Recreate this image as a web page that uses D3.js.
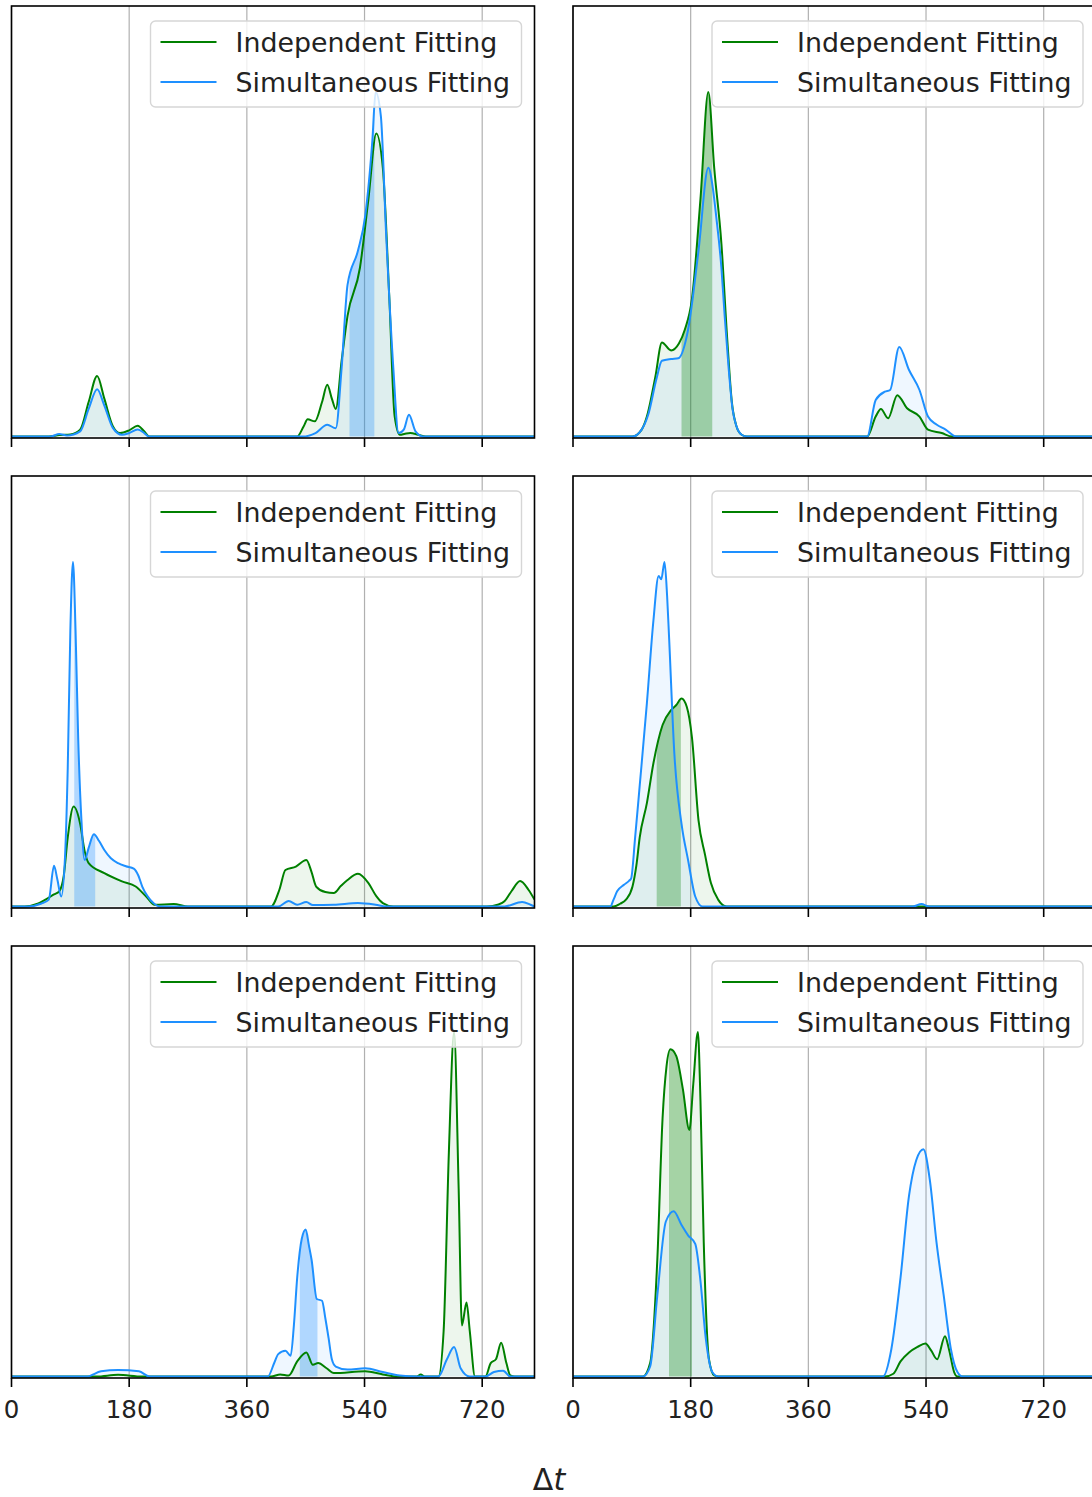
<!DOCTYPE html>
<html>
<head>
<meta charset="utf-8">
<script src="https://cdn.jsdelivr.net/npm/d3@7"></script>
<style>
  body { margin: 0; background: #fff; }
  svg { display: block; }
  text { font-family: "DejaVu Sans", sans-serif; fill: #222; }
</style>
</head>
<body>
<div id="chart"></div>
<script>
// ---- data, x in Δt, y in relative density ----
var tickValues = [0, 180, 360, 540, 720];
var seriesNames = ["Independent Fitting", "Simultaneous Fitting"];

var p1Independent = [[0,0],[57,0],[73,0.4],[90,0.6],[105,2],[118,10],[131,17.6],[142,11],[155,3],[166,1],[180,1.8],[193,3.1],[203,1.5],[211,0],[437,0],[447,3],[453,5],[464,4.4],[475,10],[483,15],[490,11],[496,8],[505,22],[514,35],[533,49],[546,69],[558,88],[568,78],[578,40],[586,6],[594,0.5],[602,0.8],[610,1],[622,0.5],[634,0],[800,0]];
var p1Simultaneous = [[0,0],[60,0],[73,0.7],[85,0.3],[105,1.5],[118,8],[131,13.7],[142,9],[155,2.5],[169,0.5],[180,1],[193,2],[203,1],[210,0],[445,0],[465,1],[483,3.4],[496,2.4],[505,20],[514,44],[530,54],[541,64],[552,86],[557,100],[565,93],[573,59],[584,20],[592,1],[600,2],[608,6.3],[618,1.5],[630,0],[800,0]];

var p2Independent = [[0,0],[91,0],[105,2],[113,5.8],[126,17.4],[136,27.3],[150,25],[162,27],[171,31],[182,40],[195,69],[207,100],[216,78],[227,56],[236,28],[243,10],[250,3],[258,0.5],[266,0],[450,0],[463,5.8],[471,8],[482,5.3],[496,12],[511,8.2],[530,5.8],[543,2],[564,1],[580,0],[800,0]];
var p2Simultaneous = [[0,0],[91,0],[105,2],[115,6.3],[128,17],[136,22],[150,22.5],[161,22.7],[176,31],[192,54],[207,78],[214,72],[219,64],[227,49],[232,35],[238,20],[244,8],[250,3],[258,0.5],[266,0],[450,0],[463,10.6],[477,13],[485,13.5],[499,26],[514,19.3],[530,13.5],[543,5.8],[556,3.5],[570,2],[586,0],[800,0]];

var p3Independent = [[0,0],[20,0],[40,0.8],[52,2],[65,3.5],[73,4.4],[80,9],[86,20],[95,29],[105,24],[112,16],[118,12.6],[142,9.7],[169,7.3],[190,5.8],[206,2.9],[219,0.5],[248,0.7],[270,0],[397,0],[410,5],[419,10.6],[435,11.6],[451,13.5],[459,10],[466,5.8],[480,4.2],[493,3.9],[504,6],[514,7.7],[530,9.5],[546,6.8],[558,3],[568,1],[584,0],[727,0],[745,0.6],[754,1.5],[765,4.5],[778,7.4],[791,4.8],[800,2]];
var p3Simultaneous = [[0,0],[25,0],[45,0.8],[57,2],[65,11.8],[70,8],[76,2.9],[82,15],[86,40],[90,80],[94,100],[98,80],[102,49],[107,25],[112,13.5],[118,17],[126,21],[134,19],[142,16.4],[152,14],[163,12.6],[175,11.7],[187,11],[194,9],[200,5.8],[208,3],[217,1],[227,0],[408,0],[424,1.6],[437,0.5],[451,1.3],[461,0.4],[493,0.5],[530,1],[557,0.5],[573,0],[754,0],[781,1.3],[794,0.5],[800,0]];

var p4Independent = [[0,0],[62,0],[72,0.8],[81,2],[91,5.8],[97,12],[102,20],[113,30],[123,41.6],[137,52.7],[150,57],[158,58.5],[166,60.4],[174,58],[182,49],[192,25],[202,15],[211,6.8],[222,2],[235,0],[800,0]];
var p4Simultaneous = [[0,0],[57,0],[62,2],[67.5,4.4],[78,6.3],[86,7.5],[89,8.2],[95,20],[102,35],[113,59],[123,83],[131,96],[135,95],[140,100],[144,90],[147,78],[155,44.5],[166,24],[176,13.5],[187,2.9],[198,0],[520,0],[533,0.7],[545,0],[800,0]];

var p5Independent = [[0,0],[130,0],[163,0.5],[200,0],[397,0],[411,0.6],[424,0.3],[437,4.4],[451,7],[461,3.4],[469,3.9],[482,2.4],[493,1],[541,1.5],[568,0.6],[590,0],[620,0],[626,0.6],[632,0],[653,0],[661,13.2],[669,65],[677,100],[684,54.5],[689,14.8],[696,21.5],[701,13.2],[709,0],[725,0],[733,3.9],[741,5],[749,9.8],[757,3.9],[763,0.3],[770,0],[800,0]];
var p5Simultaneous = [[0,0],[115,0],[137,1.5],[163,1.9],[195,1.5],[211,0],[392,0],[402,4],[408,6.5],[419,7.5],[427,6],[432,15],[437,28.7],[444,40],[450,42.7],[455,38],[459,33.9],[467,22.5],[475,22],[480,17],[485,11.2],[490,5],[496,2.9],[514,2],[541,2.4],[568,1.3],[594,0.3],[620,0],[653,0],[666,5],[677,8.6],[687,2.4],[701,0],[725,0],[738,1.3],[752,1.7],[763,0],[800,0]];

var p6Independent = [[0,0],[107,0],[118,3.9],[129,34],[137,75],[143,90],[149,95],[158,93],[168,83.5],[178,71.6],[184,85],[191,100],[195,80],[200,39],[208,5],[216,0.3],[222,0],[477,0],[490,0.8],[501,4.4],[514,7],[527,8.6],[539,9.6],[548,7.5],[557,5],[569,11.7],[575,8],[583,1.3],[588,0],[800,0]];
var p6Simultaneous = [[0,0],[107,0],[118,2.9],[129,23.6],[142,45],[154,48],[166,44],[176,41],[187,38.5],[195,27.7],[203,11.2],[213,1.3],[222,0],[474,0],[487,8],[501,28.7],[514,52.5],[525,62.8],[536,66],[546,56.8],[556,39],[567,23.6],[578,8],[588,1.3],[596,0],[800,0]];

// shaded interval per panel and which series (0 = independent, 1 = simultaneous) it sits under
var bandRanges = [[517,555],[166,213],[96,128],[128,165],[441,468],[147,182]];
var bandSeries = [1, 0, 1, 0, 1, 0];

// ---- layout ----
var W = 1092, H = 1497;
var colLeft = [11.5, 573];
var rowTop = [6, 476, 946];
var pw = 523, ph = 432;
var colors = ["#008000", "#1e90ff"];

var panels = [
  [p1Independent, p1Simultaneous], [p2Independent, p2Simultaneous],
  [p3Independent, p3Simultaneous], [p4Independent, p4Simultaneous],
  [p5Independent, p5Simultaneous], [p6Independent, p6Simultaneous]
];

var svg = d3.select("#chart").append("svg").attr("width", W).attr("height", H);

var x = d3.scaleLinear().domain([0, 800]).range([0, pw]);

panels.forEach(function (series, i) {
  var row = Math.floor(i / 2), col = i % 2;
  var g = svg.append("g").attr("transform", "translate(" + colLeft[col] + "," + rowTop[row] + ")");
  var ymax = d3.max(series, function (s) { return d3.max(s, function (d) { return d[1]; }); });
  var y = d3.scaleLinear().domain([0, ymax * 1.25]).range([ph - 1.5, 0]);

  var clipId = "clip" + i;
  g.append("clipPath").attr("id", clipId).append("rect").attr("width", pw).attr("height", ph);

  // grid
  g.selectAll(".grid").data(tickValues).enter().append("line")
    .attr("x1", function (d) { return x(d); }).attr("x2", function (d) { return x(d); })
    .attr("y1", 0).attr("y2", ph)
    .attr("stroke", "#b0b0b0").attr("stroke-width", 1.2);

  var plot = g.append("g").attr("clip-path", "url(#" + clipId + ")");

  var area = d3.area().x(function (d) { return x(d[0]); }).y0(y(0)).y1(function (d) { return y(d[1]); })
    .curve(d3.curveMonotoneX);
  var line = d3.line().x(function (d) { return x(d[0]); }).y(function (d) { return y(d[1]); })
    .curve(d3.curveMonotoneX);

  series.forEach(function (s, k) {
    plot.append("path").attr("d", area(s)).attr("fill", colors[k]).attr("fill-opacity", 0.07);
  });

  // darker interval
  var b = bandRanges[i];
  var bandClip = "band" + i;
  g.append("clipPath").attr("id", bandClip).append("rect")
    .attr("x", x(b[0])).attr("width", x(b[1]) - x(b[0])).attr("y", 0).attr("height", ph);
  plot.append("g").attr("clip-path", "url(#" + bandClip + ")")
    .append("path").attr("d", area(series[bandSeries[i]]))
    .attr("fill", colors[bandSeries[i]]).attr("fill-opacity", 0.3);

  series.forEach(function (s, k) {
    plot.append("path").attr("d", line(s)).attr("fill", "none")
      .attr("stroke", colors[k]).attr("stroke-width", 2);
  });

  // frame
  g.append("rect").attr("width", pw).attr("height", ph)
    .attr("fill", "none").attr("stroke", "#000").attr("stroke-width", 1.6);

  // ticks
  g.selectAll(".tick").data(tickValues).enter().append("line")
    .attr("x1", function (d) { return x(d); }).attr("x2", function (d) { return x(d); })
    .attr("y1", ph).attr("y2", ph + 9)
    .attr("stroke", "#000").attr("stroke-width", 1.6);

  if (row === 2) {
    g.selectAll(".tlabel").data(tickValues).enter().append("text")
      .attr("x", function (d) { return x(d); }).attr("y", ph + 40)
      .attr("text-anchor", "middle").style("font-size", "24.5px")
      .text(function (d) { return d; });
  }

  // legend
  var lg = g.append("g").attr("transform", "translate(" + (pw - 13 - 371) + ",15)");
  lg.append("rect").attr("width", 371).attr("height", 86).attr("rx", 5)
    .attr("fill", "#fff").attr("fill-opacity", 0.8)
    .attr("stroke", "#d6d6d6").attr("stroke-width", 1.4);
  seriesNames.forEach(function (name, k) {
    var yy = 21 + k * 40;
    lg.append("line").attr("x1", 10).attr("x2", 66).attr("y1", yy).attr("y2", yy)
      .attr("stroke", colors[k]).attr("stroke-width", 2);
    lg.append("text").attr("x", 85).attr("y", yy).attr("dy", "0.36em")
      .style("font-size", "26.8px").text(name);
  });
});

// x label
var xl = svg.append("text").attr("x", 549).attr("y", 1490).attr("text-anchor", "middle")
  .style("font-size", "30px");
xl.append("tspan").text("Δ");
xl.append("tspan").style("font-style", "italic").text("t");
</script>
</body>
</html>
